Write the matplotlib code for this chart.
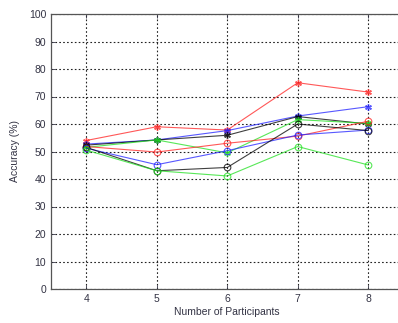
import matplotlib
matplotlib.use("Agg")
import matplotlib.pyplot as plt

participants = [4, 5, 6, 7, 8]

red_star = [54.0, 59.0, 57.8, 75.0, 71.6]
blue_star = [52.7, 54.2, 57.6, 62.9, 66.3]
black_star = [52.3, 54.2, 55.9, 62.7, 60.0]
green_star = [51.5, 54.2, 49.5, 61.6, 60.2]

red_circ = [51.8, 49.8, 53.0, 55.6, 61.0]
blue_circ = [51.2, 45.2, 50.3, 56.0, 57.8]
black_circ = [51.5, 43.0, 44.2, 60.0, 57.6]
green_circ = [50.5, 43.0, 41.1, 51.8, 45.1]

yticks = list(range(0, 101, 10))

plt.rcParams['font.family'] = ['Liberation Sans', 'DejaVu Sans']

fig = plt.figure(figsize=(3.98, 3.23), dpi=100)
W, H = 398, 323
left, right, top, bottom = 51, 403.5, 14, 289
ax = fig.add_axes([left / W, (H - bottom) / H, (right - left) / W, (bottom - top) / H])

ast = (6, 2, 0)
series = [
    (red_star, '#ff2020', ast),
    (blue_star, '#2020ff', ast),
    (black_star, '#000000', ast),
    (green_star, '#20e020', ast),
    (red_circ, '#ff2020', 'o'),
    (blue_circ, '#2020ff', 'o'),
    (black_circ, '#000000', 'o'),
    (green_circ, '#20e020', 'o'),
]
for vals, col, mk in series:
    if mk == 'o':
        ax.plot(participants, vals, color=col, lw=0.8, marker='o', ms=4.8,
                mfc='none', mec=col, mew=0.8, alpha=0.75)
    else:
        ax.plot(participants, vals, color=col, lw=0.8, marker=mk, ms=4.8,
                mec=col, mew=1.0, alpha=0.75)

ax.set_xlim(3.5, 8.5)
ax.set_ylim(0, 100)
ax.set_xticks(participants)
ax.set_yticks(yticks)
ax.grid(True, color='#222222', linestyle=(0, (1.5, 2.0)), linewidth=0.8)
ax.tick_params(labelsize=7.5, colors='#333344', length=3, width=0.6,
               direction='in', top=True, right=True)
for s in ax.spines.values():
    s.set_color('#555555')
    s.set_linewidth(0.9)
ax.set_xlabel('Number of Participants', fontsize=7.5, color='#333344', labelpad=2)
ax.set_ylabel('Accuracy (%)', fontsize=7.5, color='#333344', labelpad=6)

fig.savefig('out.png', dpi=100)
